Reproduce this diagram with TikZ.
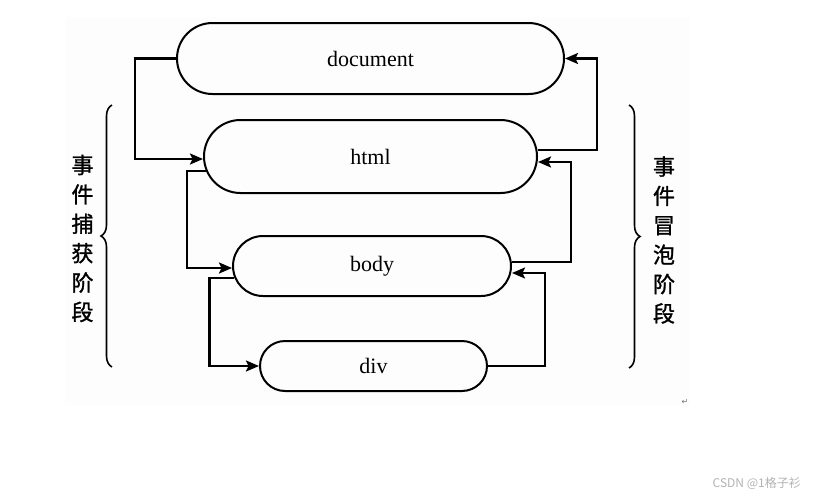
\documentclass[tikz,border=0pt]{standalone}
\usepackage{fontspec}
\newfontfamily\cjk{Noto Sans CJK SC}
\newfontfamily\cjkb[FakeBold=1.2]{Noto Sans CJK SC}
\newfontfamily\djv{DejaVu Sans}
\newfontfamily\lab{Liberation Serif}
\usetikzlibrary{shapes.misc,arrows.meta,decorations.pathreplacing}
\begin{document}
\begin{tikzpicture}[x=1pt,y=-1pt,
 box/.style={rounded rectangle, draw, line width=2pt, inner sep=0pt, font=\lab\fontsize{22}{26}\selectfont},
 arr/.style={line width=2.2pt, -{Stealth[length=13pt,width=11pt,inset=2.5pt]}},
 brc/.style={decorate, decoration={brace, amplitude=11pt}, line width=1.6pt},
 side/.style={font=\cjkb\fontsize{22}{29.4}\selectfont, align=center, inner sep=0pt}]
\useasboundingbox (0,0) rectangle (814,498);
\fill[black!0.6] (65,17) rectangle (690,405);
\node[box, minimum width=387pt, minimum height=71pt] (doc) at (370.5,58.5) {document};
\node[box, minimum width=333pt, minimum height=73pt] (html) at (370.5,156.5) {html};
\node[box, minimum width=278pt, minimum height=60pt] (body) at (372,266) {body};
\node[box, minimum width=227pt, minimum height=50pt] (div) at (373.5,366) {div};
% capture
\draw[arr] (doc.west) -- ++(-41,0) |- ([yshift=-2.5]html.west);
\draw[arr] (html.185) -- ++(-18.5,0) |- ([yshift=-2]body.west);
\draw[arr] (body.185) -- ++(-25,0) |- (div.west);
% bubble
\draw[arr] (div.east) -- ++(57,0) |- ([yshift=-7]body.east);
\draw[arr] ([yshift=4]body.east) -- ++(59,0) |- ([yshift=-5.5]html.east);
\draw[arr] ([yshift=6.5]html.east) -- ++(59,0) |- (doc.east);
% braces
\draw[brc] (112,367) -- (112,105);
\draw[brc] (629,105) -- (629,368);
\node[side] (lt) at (82.5,238.5) {事\\件\\捕\\获\\阶\\段};
\node[side] (rt) at (664,240) {事\\件\\冒\\泡\\阶\\段};
\node[font=\djv\fontsize{8}{9}\selectfont, text=black!55] (ret) at (685,402) {↵};
\node[font=\cjk\fontsize{12}{14}\selectfont, text=black!30, anchor=east, inner sep=0pt] (wm) at (801,483) {CSDN @1格子衫};
\end{tikzpicture}
\end{document}
